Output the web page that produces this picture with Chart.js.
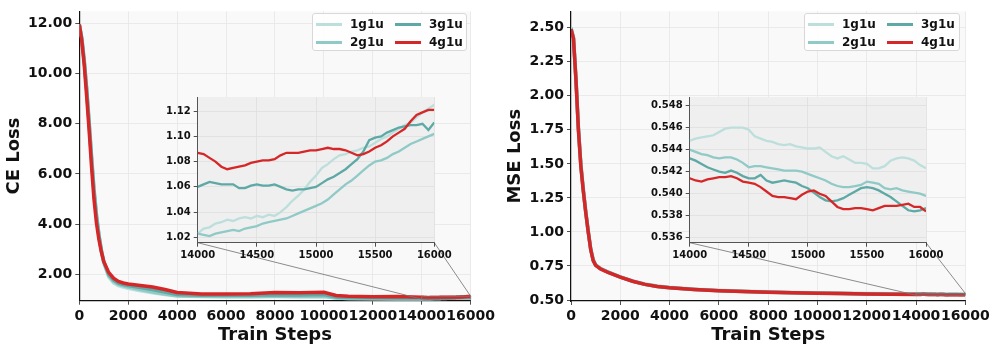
<!DOCTYPE html>
<html>
<head>
<meta charset="utf-8">
<script src="https://cdn.jsdelivr.net/npm/chart.js@4.4.1/dist/chart.umd.min.js"></script>
<style>
    html, body { margin: 0; padding: 0; background: #fff; }
    #wrap { position: relative; width: 997px; height: 351px; overflow: hidden; font-family: 'DejaVu Sans', sans-serif; }
    canvas { position: absolute; }
    .legend {
        position: absolute; box-sizing: border-box; height: 38px;
        border: 1px solid #d8d8d8; border-radius: 3px; background: rgba(255, 255, 255, 0.85);
        padding: 1px 0 0 3px;
        display: grid; grid-auto-flow: column; grid-template-rows: 18px 18px; grid-template-columns: 79px 74px;
    }
    .item { display: flex; align-items: center; font-weight: bold; font-size: 12px; color: #111; }
    .swatch { width: 26px; height: 3px; margin-right: 8px; }
</style>
</head>
<body>
<div id="wrap">
    <canvas id="ceMain" width="498" height="351" style="left:0;top:0"></canvas>
    <canvas id="ceZoom" width="310" height="178" style="left:150px;top:88px"></canvas>
    <canvas id="mseMain" width="500" height="351" style="left:497px;top:0"></canvas>
    <canvas id="mseZoom" width="320" height="178" style="left:640px;top:88px"></canvas>
    <div class="legend" id="ceLegend" style="left:312px;top:13px;width:155px"></div>
    <div class="legend" id="mseLegend" style="left:804px;top:13px;width:156px"></div>
</div>
<script>
const names = ['1g1u', '2g1u', '3g1u', '4g1u'];
const colors = ['#bcdfdc', '#8fcac6', '#5ea9a6', '#d62728'];

// main curves, 0 - 13000 steps
const ceSteps = [0, 100, 200, 300, 400, 500, 600, 700, 800, 900, 1000, 1200, 1400, 1600, 1800, 2000, 2500, 3000, 3500, 4000, 5000, 6000, 7000, 8000, 9000, 10000, 10500, 11000, 12000, 13000];
const ce1g1u = [11.95, 11.45, 10.6, 9.45, 8.15, 6.75, 5.45, 4.4, 3.6, 2.95, 2.45, 1.9, 1.66, 1.55, 1.5, 1.45, 1.35, 1.27, 1.2, 1.14, 1.12, 1.11, 1.11, 1.12, 1.11, 1.12, 1.06, 1.04, 1.03, 1.025];
const ce2g1u = [11.95, 11.4, 10.5, 9.4, 8.1, 6.7, 5.4, 4.4, 3.6, 3.0, 2.5, 1.95, 1.72, 1.6, 1.55, 1.5, 1.4, 1.3, 1.22, 1.15, 1.13, 1.12, 1.12, 1.13, 1.12, 1.13, 1.06, 1.04, 1.03, 1.025];
const ce3g1u = [11.95, 11.4, 10.5, 9.35, 8.0, 6.6, 5.3, 4.3, 3.55, 2.95, 2.5, 2.0, 1.78, 1.65, 1.6, 1.56, 1.48, 1.40, 1.30, 1.20, 1.17, 1.17, 1.17, 1.19, 1.18, 1.2, 1.1, 1.08, 1.07, 1.065];
const ce4g1u = [11.95, 11.3, 10.35, 9.1, 7.75, 6.3, 5.0, 4.05, 3.4, 2.9, 2.52, 2.08, 1.85, 1.72, 1.66, 1.62, 1.56, 1.50, 1.40, 1.28, 1.22, 1.22, 1.23, 1.28, 1.27, 1.29, 1.16, 1.13, 1.11, 1.12];

const mseSteps = [0, 100, 200, 300, 400, 500, 600, 700, 800, 900, 1000, 1200, 1500, 2000, 2500, 3000, 3500, 4000, 5000, 6000, 7000, 8000, 9000, 10000, 11000, 12000, 13000];
const mse1g1u = [2.50, 2.43, 2.14, 1.77, 1.50, 1.32, 1.15, 1.01, 0.88, 0.80, 0.76, 0.732, 0.707, 0.671, 0.641, 0.618, 0.603, 0.593, 0.580, 0.571, 0.565, 0.560, 0.556, 0.553, 0.550, 0.548, 0.546];
const mse2g1u = [2.50, 2.43, 2.13, 1.76, 1.49, 1.31, 1.15, 1.0, 0.875, 0.795, 0.757, 0.730, 0.705, 0.669, 0.639, 0.616, 0.601, 0.591, 0.578, 0.569, 0.563, 0.558, 0.554, 0.551, 0.548, 0.546, 0.544];
const mse3g1u = [2.49, 2.42, 2.12, 1.76, 1.49, 1.30, 1.14, 1.0, 0.872, 0.792, 0.756, 0.729, 0.704, 0.668, 0.638, 0.615, 0.600, 0.590, 0.577, 0.568, 0.562, 0.557, 0.553, 0.550, 0.547, 0.545, 0.543];
const mse4g1u = [2.49, 2.42, 2.12, 1.75, 1.48, 1.30, 1.14, 1.0, 0.87, 0.79, 0.755, 0.728, 0.703, 0.668, 0.638, 0.615, 0.600, 0.590, 0.577, 0.568, 0.562, 0.557, 0.553, 0.550, 0.547, 0.545, 0.543];

// zoomed window 14000 - 16000
const zoomSteps = [14000, 14050, 14100, 14150, 14200, 14250, 14300, 14350, 14400, 14450, 14500, 14550, 14600, 14650, 14700, 14750, 14800, 14850, 14900, 14950, 15000, 15050, 15100, 15150, 15200, 15250, 15300, 15350, 15400, 15450, 15500, 15550, 15600, 15650, 15700, 15750, 15800, 15850, 15900, 15950, 16000];
const ceZoom1g1u = [1.023, 1.027, 1.028, 1.031, 1.032, 1.034, 1.033, 1.035, 1.036, 1.035, 1.037, 1.036, 1.038, 1.037, 1.040, 1.044, 1.049, 1.053, 1.058, 1.064, 1.069, 1.075, 1.078, 1.082, 1.085, 1.086, 1.088, 1.089, 1.091, 1.092, 1.095, 1.098, 1.100, 1.103, 1.106, 1.109, 1.111, 1.115, 1.119, 1.122, 1.125];
const ceZoom2g1u = [1.023, 1.022, 1.021, 1.023, 1.024, 1.025, 1.026, 1.025, 1.027, 1.028, 1.029, 1.031, 1.032, 1.033, 1.034, 1.035, 1.037, 1.039, 1.041, 1.043, 1.045, 1.047, 1.050, 1.054, 1.058, 1.062, 1.065, 1.069, 1.073, 1.077, 1.080, 1.081, 1.083, 1.086, 1.088, 1.091, 1.094, 1.096, 1.098, 1.100, 1.102];
const ceZoom3g1u = [1.060, 1.062, 1.064, 1.063, 1.062, 1.062, 1.062, 1.059, 1.059, 1.061, 1.062, 1.061, 1.061, 1.062, 1.060, 1.058, 1.057, 1.058, 1.058, 1.059, 1.060, 1.063, 1.066, 1.068, 1.071, 1.074, 1.078, 1.082, 1.088, 1.097, 1.099, 1.100, 1.103, 1.105, 1.107, 1.108, 1.109, 1.109, 1.110, 1.105, 1.111];
const ceZoom4g1u = [1.087, 1.086, 1.083, 1.080, 1.076, 1.074, 1.075, 1.076, 1.077, 1.079, 1.080, 1.081, 1.081, 1.082, 1.085, 1.087, 1.087, 1.087, 1.088, 1.089, 1.089, 1.090, 1.091, 1.090, 1.090, 1.089, 1.087, 1.085, 1.086, 1.088, 1.091, 1.093, 1.096, 1.100, 1.103, 1.106, 1.112, 1.117, 1.119, 1.121, 1.121];
const mseZoom1g1u = [0.5448, 0.5450, 0.5451, 0.5452, 0.5453, 0.5456, 0.5459, 0.5460, 0.5460, 0.5460, 0.5458, 0.5452, 0.5450, 0.5448, 0.5447, 0.5445, 0.5444, 0.5445, 0.5443, 0.5442, 0.5441, 0.5441, 0.5442, 0.5438, 0.5434, 0.5432, 0.5434, 0.5431, 0.5428, 0.5428, 0.5427, 0.5423, 0.5423, 0.5425, 0.5430, 0.5432, 0.5433, 0.5432, 0.5430, 0.5426, 0.5423];
const mseZoom2g1u = [0.5440, 0.5438, 0.5436, 0.5435, 0.5433, 0.5432, 0.5433, 0.5433, 0.5431, 0.5428, 0.5424, 0.5425, 0.5425, 0.5424, 0.5423, 0.5422, 0.5421, 0.5421, 0.5421, 0.5420, 0.5418, 0.5416, 0.5414, 0.5412, 0.5409, 0.5407, 0.5406, 0.5406, 0.5407, 0.5408, 0.5411, 0.5410, 0.5409, 0.5405, 0.5404, 0.5405, 0.5403, 0.5402, 0.5401, 0.5400, 0.5398];
const mseZoom3g1u = [0.5432, 0.5430, 0.5427, 0.5424, 0.5422, 0.5420, 0.5419, 0.5421, 0.5419, 0.5416, 0.5414, 0.5414, 0.5417, 0.5412, 0.5410, 0.5411, 0.5412, 0.5411, 0.5410, 0.5407, 0.5405, 0.5401, 0.5397, 0.5394, 0.5393, 0.5394, 0.5396, 0.5399, 0.5402, 0.5405, 0.5406, 0.5405, 0.5403, 0.5400, 0.5397, 0.5393, 0.5389, 0.5385, 0.5384, 0.5385, 0.5387];
const mseZoom4g1u = [0.5414, 0.5412, 0.5411, 0.5413, 0.5414, 0.5415, 0.5415, 0.5416, 0.5414, 0.5411, 0.5410, 0.5409, 0.5406, 0.5402, 0.5398, 0.5397, 0.5397, 0.5396, 0.5395, 0.5399, 0.5402, 0.5403, 0.5400, 0.5398, 0.5393, 0.5388, 0.5386, 0.5386, 0.5387, 0.5387, 0.5386, 0.5385, 0.5387, 0.5389, 0.5389, 0.5389, 0.5390, 0.5391, 0.5388, 0.5388, 0.5384];

// tick labels
const mainXTicks = [0, 2000, 4000, 6000, 8000, 10000, 12000, 14000, 16000];
const zoomXTicks = [14000, 14500, 15000, 15500, 16000];
const ceYTicks = [2, 4, 6, 8, 10, 12];
const mseYTicks = [0.5, 0.75, 1.0, 1.25, 1.5, 1.75, 2.0, 2.25, 2.5];
const ceZoomYTicks = [1.02, 1.04, 1.06, 1.08, 1.10, 1.12];
const mseZoomYTicks = [0.536, 0.538, 0.540, 0.542, 0.544, 0.546, 0.548];

const FONT = 'DejaVu Sans';

function pts(steps, vals) {
    return steps.map((s, i) => ({ x: s, y: vals[i] }));
}

const areaBg = {
    id: 'areaBg',
    beforeDraw(chart, args, opts) {
        const { ctx, chartArea: a } = chart;
        ctx.save();
        ctx.fillStyle = opts.color;
        ctx.fillRect(a.left, a.top, a.right - a.left, a.bottom - a.top);
        ctx.restore();
    }
};

function axis(o) {
    return {
        type: 'linear',
        min: o.min,
        max: o.max,
        afterBuildTicks: (s) => { s.ticks = o.ticks.map(v => ({ value: v })); },
        afterFit: (s) => {
            if (o.width != null) s.width = o.width;
            if (o.height != null) s.height = o.height;
        },
        grid: { color: o.gridColor, lineWidth: 0.8, tickColor: '#222', tickLength: 4 },
        border: { color: o.spine, width: o.spineWidth },
        ticks: {
            color: '#111', padding: 3, maxRotation: 0, autoSkip: false,
            font: { family: FONT, weight: 'bold', size: o.font },
            callback: o.fmt
        },
        title: o.title
            ? { display: true, text: o.title, color: '#111', font: { family: FONT, weight: 'bold', size: 18 }, padding: o.titlePad }
            : { display: false }
    };
}

// red (last) is drawn on top, like the reference
function datasets(list, width) {
    return list.map((data, i) => ({
        label: names[i],
        data: data,
        order: names.length - 1 - i,
        borderColor: colors[i],
        borderWidth: width,
        pointRadius: 0,
        fill: false
    }));
}

function makeInset(id, series, y, pad) {
    return new Chart(document.getElementById(id), {
        type: 'line',
        data: { datasets: datasets(series.map(v => pts(zoomSteps, v)), 2.3) },
        options: {
            responsive: false, animation: false,
            layout: { padding: pad },
            plugins: { legend: { display: false }, tooltip: { enabled: false }, areaBg: { color: '#efefef' } },
            scales: {
                x: axis({ min: 14000, max: 16000, ticks: zoomXTicks, fmt: v => String(v), font: 10, height: 23.3,
                          gridColor: '#dedede', spine: '#555', spineWidth: 1 }),
                y: axis({ min: y.min, max: y.max, ticks: y.ticks, fmt: y.fmt, font: 10, width: y.width,
                          gridColor: '#dedede', spine: '#555', spineWidth: 1 })
            }
        },
        plugins: [areaBg]
    });
}

function connector(inset, dx, dy, box) {
    return {
        id: 'connector',
        afterDatasetsDraw(chart) {
            const { ctx, scales } = chart;
            const ia = inset.chartArea;
            const x0 = scales.x.getPixelForValue(box.x0), x1 = scales.x.getPixelForValue(box.x1);
            const y0 = scales.y.getPixelForValue(box.y0), y1 = scales.y.getPixelForValue(box.y1);
            ctx.save();
            ctx.strokeStyle = 'rgba(120,120,120,0.85)';
            ctx.lineWidth = 1;
            ctx.strokeRect(x0, y1, x1 - x0, y0 - y1);
            ctx.beginPath();
            ctx.moveTo(ia.left + dx, ia.bottom + dy);
            ctx.lineTo(x0, y0);
            ctx.moveTo(ia.right + dx, ia.bottom + dy);
            ctx.lineTo(x1, y1);
            ctx.stroke();
            ctx.restore();
        }
    };
}

function makeMain(id, series, x, y, pad, inset, dx, dy, box) {
    return new Chart(document.getElementById(id), {
        type: 'line',
        data: { datasets: datasets(series, 3.5) },
        options: {
            responsive: false, animation: false,
            layout: { padding: pad },
            plugins: { legend: { display: false }, tooltip: { enabled: false }, areaBg: { color: '#f9f9f9' } },
            scales: {
                x: axis({ min: 0, max: 16000, ticks: mainXTicks, fmt: v => String(v), font: 14, height: x.height,
                          gridColor: '#e6e6e6', spine: '#111', spineWidth: 1.2, title: 'Train Steps', titlePad: { top: 0, bottom: 5 } }),
                y: axis({ min: y.min, max: y.max, ticks: y.ticks, fmt: y.fmt, font: 14, width: y.width,
                          gridColor: '#e6e6e6', spine: '#111', spineWidth: 1.2, title: y.title, titlePad: { top: y.titleTop, bottom: 0 } })
            }
        },
        plugins: [areaBg, connector(inset, dx, dy, box)]
    });
}

// CE panel
const ceInset = makeInset('ceZoom', [ceZoom1g1u, ceZoom2g1u, ceZoom3g1u, ceZoom4g1u],
    { min: 1.0158, max: 1.1312, ticks: ceZoomYTicks, fmt: v => v.toFixed(2), width: 47.7 },
    { left: 0, top: 7.7, right: 25.7, bottom: 0 });
makeMain('ceMain',
    [ce1g1u, ce2g1u, ce3g1u, ce4g1u].map((v, i) => pts(ceSteps.concat(zoomSteps), v.concat([ceZoom1g1u, ceZoom2g1u, ceZoom3g1u, ceZoom4g1u][i]))),
    { height: 50.3 },
    { min: 0.953, max: 12.47, ticks: ceYTicks, fmt: v => v.toFixed(2), width: 79.3, title: 'CE Loss', titleTop: 4 },
    { left: 0, top: 7, right: 24.7, bottom: 0 },
    ceInset, 150, 88, { x0: 14000, x1: 16000, y0: 1.0158, y1: 1.1312 });

// MSE panel
const mseInset = makeInset('mseZoom', [mseZoom1g1u, mseZoom2g1u, mseZoom3g1u, mseZoom4g1u],
    { min: 0.53556, max: 0.54877, ticks: mseZoomYTicks, fmt: v => v.toFixed(3), width: 49.7 },
    { left: 0, top: 7.7, right: 34, bottom: 0 });
makeMain('mseMain',
    [mse1g1u, mse2g1u, mse3g1u, mse4g1u].map((v, i) => pts(mseSteps.concat(zoomSteps), v.concat([mseZoom1g1u, mseZoom2g1u, mseZoom3g1u, mseZoom4g1u][i]))),
    { height: 50 },
    { min: 0.4928, max: 2.62, ticks: mseYTicks, fmt: v => v.toFixed(2), width: 74, title: 'MSE Loss', titleTop: 8 },
    { left: 0, top: 6.7, right: 31.7, bottom: 0 },
    mseInset, 143, 88, { x0: 14000, x1: 16000, y0: 0.53556, y1: 0.54877 });

// legends (matplotlib ncol=2 order)
['ceLegend', 'mseLegend'].forEach(id => {
    const box = document.getElementById(id);
    names.forEach((name, i) => {
        const item = document.createElement('div');
        item.className = 'item';
        item.innerHTML = `<div class="swatch" style="background:${colors[i]}"></div><span>${name}</span>`;
        box.appendChild(item);
    });
});
</script>
</body>
</html>
